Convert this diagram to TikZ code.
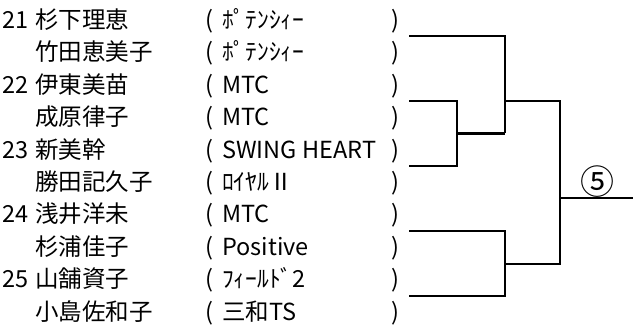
\documentclass[tikz,border=0pt]{standalone}
\usepackage{fontspec}
\setmainfont{Noto Sans CJK JP}
\begin{document}
\begin{tikzpicture}[x=1pt,y=-1pt,
  every node/.style={inner sep=0pt, font=\fontsize{23.5}{23.5}\selectfont},
  lbl/.style={anchor=base west},
  br/.style={line width=2.5pt, line join=miter}]
\useasboundingbox (0,0) rectangle (633,328);
\foreach \i/\n/\nm/\cl in {
  1/21/杉下理恵/ﾎﾟﾃﾝｼｨｰ,
  2//竹田恵美子/ﾎﾟﾃﾝｼｨｰ,
  3/22/伊東美苗/MTC,
  4//成原律子/MTC,
  5/23/新美幹/SWING HEART,
  6//勝田記久子/ﾛｲﾔﾙⅡ,
  7/24/浅井洋未/MTC,
  8//杉浦佳子/Positive,
  9/25/山舗資子/ﾌｨｰﾙﾄﾞ2,
  10//小島佐和子/三和TS}{
  \pgfmathsetmacro{\yy}{20+32.4*(\i-1)+8.5}
  \node[lbl] (num\i) at (2,\yy) {\n};
  \node[lbl] (name\i) at (35,\yy) {\nm};
  \node[lbl] (lp\i) at (205,\yy) {(};
  \node[lbl] (club\i) at (222,\yy) {\cl};
  \node[lbl] (rp\i) at (391,\yy) {)};
}
\coordinate (a1) at (409,36);
\coordinate (a2) at (409,101);
\coordinate (a3) at (409,166);
\coordinate (a4) at (409,231);
\coordinate (a5) at (409,296);
\coordinate (j23) at (457,133.5);
\coordinate (j1) at (505,101);
\coordinate (j45) at (505,264);
\coordinate (jf) at (560,198);
\coordinate (fin) at (633,198);
\draw[br] (a2) -| (j23) -- (j23 |- a3) -- (a3);
\draw[br] (j23) -- (j23 -| j1);
\draw[br] (a1) -| (j1) -- (j1 |- j23);
\draw[br] (a4) -| (j45) -- (j45 |- a5) -- (a5);
\draw[br] (j1) -| (jf) -- (jf |- j45) -- (j45);
\draw[br] (jf) -- (fin);
\node[font=\fontsize{34}{34}\selectfont] (res) at (597,182) {⑤};
\end{tikzpicture}
\end{document}
